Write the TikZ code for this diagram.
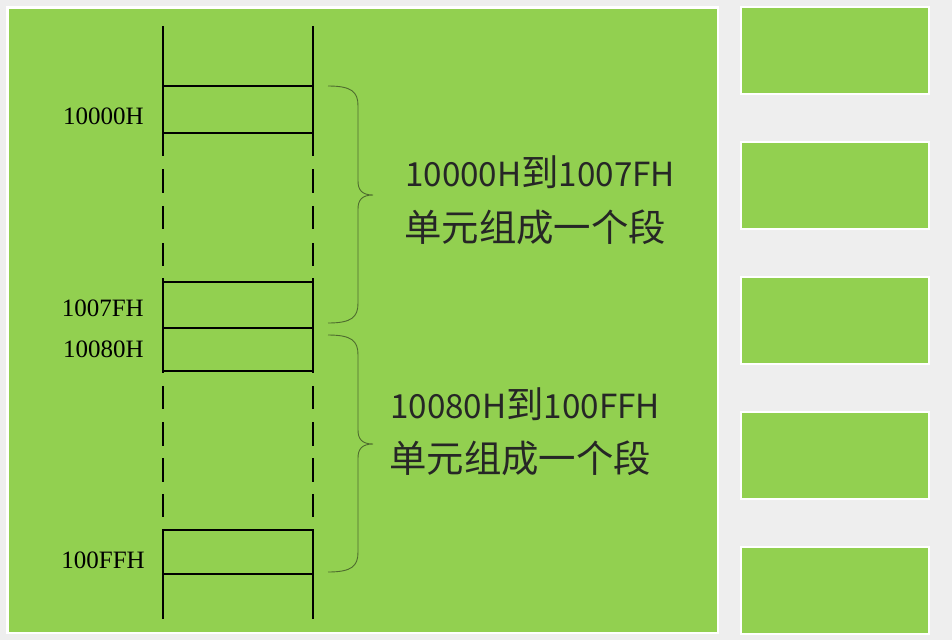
\documentclass[tikz,border=0pt]{standalone}
\usepackage{fontspec}
\setmainfont{Liberation Serif}
\newfontfamily\cjkfont{Noto Sans CJK SC}
\definecolor{bgcol}{HTML}{EEEEEE}
\definecolor{panelcol}{HTML}{92D050}
\definecolor{bracecol}{HTML}{4E6B2E}
\definecolor{txtcol}{HTML}{262626}
\newcommand\latpart[1]{{\fontsize{33.2}{38}\selectfont #1}}
\tikzset{
  memline/.style={line width=1.7pt, black},
  bracel/.style={line width=0.9pt, bracecol},
  addr/.style={font=\fontsize{25}{28}\selectfont, inner sep=0pt, anchor=base east},
  bigtxt/.style={font=\cjkfont\fontsize{37.4}{42}\selectfont, text=txtcol, inner sep=0pt, anchor=base west},
  panel/.style={fill=panelcol, draw=white},
}
\begin{document}
\begin{tikzpicture}[x=1pt,y=-1pt]
\useasboundingbox (0,0) rectangle (952,640);
\fill[bgcol] (0,0) rectangle (952,640);
\filldraw[panel, line width=2.5pt] (7.25,7.25) rectangle (717.75,632.75);
\foreach \t in {6,141,276,411,546}
  \filldraw[panel, line width=2pt] (741,\t+1) rectangle (929,\t+88);
% memory columns
\foreach \x in {163,313}{
  \foreach \a/\b in {26/156,169/193,206/229,243/266,278/372.7,386/409,422/446,458/482,494/517,529.3/619}
    \draw[memline] (\x,\a) -- (\x,\b);
}
\foreach \y in {86.3,133.3,281.7,327.7,370.7,530,573.7}
  \draw[memline] (163,\y) -- (313,\y);
% address labels
\node[addr] (a1) at (144,124) {10000H};
\node[addr] (a2) at (144,316) {1007FH};
\node[addr] (a3) at (144,357) {10080H};
\node[addr] (a4) at (145,568) {100FFH};
% braces
\draw[bracel] (328,86) .. controls (352,86) and (358,92) .. (358,106) -- (358,181)
  .. controls (358,190) and (362,195) .. (373,195)
  .. controls (362,195) and (358,200) .. (358,209) -- (358,303)
  .. controls (358,317) and (352,323) .. (328,323);
\draw[bracel] (328,335) .. controls (352,335) and (358,341) .. (358,355) -- (358,430)
  .. controls (358,439) and (362,444) .. (373,444)
  .. controls (362,444) and (358,449) .. (358,458) -- (358,552)
  .. controls (358,566) and (352,572) .. (328,572);
% segment descriptions
\node[bigtxt] (s1a) at (405,186.7) {\latpart{10000H}到\latpart{1007FH}};
\node[bigtxt] (s1b) at (404,241) {单元组成一个段};
\node[bigtxt] (s2a) at (390,418.3) {\latpart{10080H}到\latpart{100FFH}};
\node[bigtxt] (s2b) at (389,472) {单元组成一个段};
\end{tikzpicture}
\end{document}
